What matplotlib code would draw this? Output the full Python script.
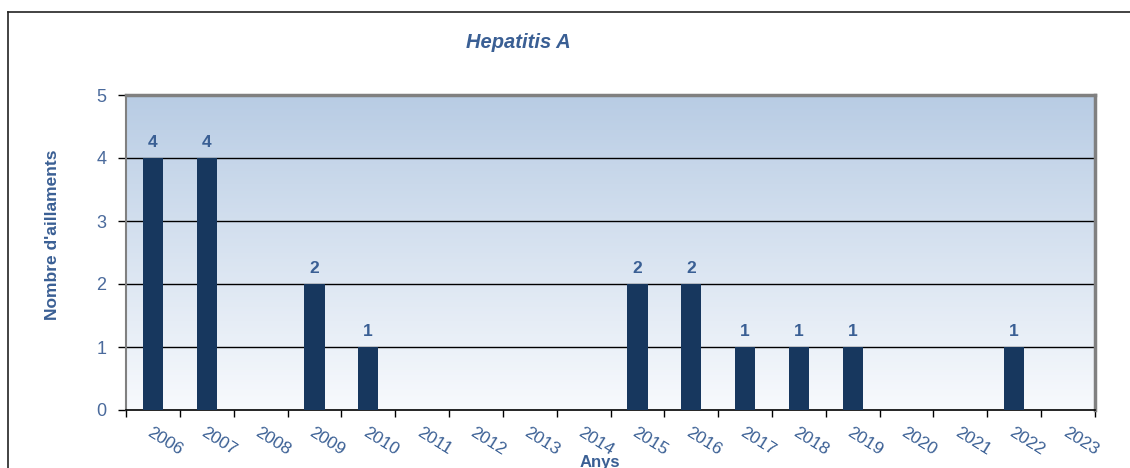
import numpy as np
import matplotlib.pyplot as plt
from matplotlib.colors import LinearSegmentedColormap
from matplotlib.lines import Line2D

plt.rcParams["font.family"] = ["Liberation Sans", "DejaVu Sans"]

years = [str(y) for y in range(2006, 2024)]
cases = [4, 4, 0, 2, 1, 0, 0, 0, 0, 2, 2, 1, 1, 1, 0, 0, 1, 0]

txt_color = "#3a5f94"
bar_color = "#17375e"

fig = plt.figure(figsize=(11.3, 4.68), dpi=100)
ax = fig.add_axes([126 / 1130, 1 - 410 / 468, (1095 - 126) / 1130, (410 - 95) / 468])

# degradat de fons
cmap = LinearSegmentedColormap.from_list("fons", ["#f8fafd", "#b8cce4"])
grad = np.linspace(0, 1, 256).reshape(-1, 1)
ax.imshow(grad, cmap=cmap, aspect="auto", origin="lower",
          extent=[0, len(years), 0, 5], zorder=0)

x = np.arange(len(years)) + 0.5
ax.bar(x, cases, width=0.38, color=bar_color, zorder=3)

for xi, v in zip(x, cases):
    if v > 0:
        ax.text(xi, v + 0.12, str(v), ha="center", va="bottom",
                fontsize=12.5, fontweight="bold", color=txt_color)

ax.set_xlim(0, len(years))
ax.set_ylim(0, 5)
ax.set_yticks(range(0, 6))
for g in range(1, 5):
    ax.axhline(g, color="black", lw=1, zorder=2)

ax.set_xticks(x)
ax.set_xticklabels(years, rotation=-32, ha="left", va="top",
                   rotation_mode="anchor", fontsize=12.5, color=txt_color)
ax.tick_params(axis="x", which="major", length=0, pad=11)
ax.set_xticks(np.arange(0, len(years) + 1), minor=True)
ax.tick_params(axis="x", which="minor", length=5, width=1, color="black", direction="out")
ax.tick_params(axis="y", length=6, width=1, color="black", labelsize=13,
               labelcolor="#4a6a9c", pad=8)

ax.spines["top"].set_color("#808080")
ax.spines["top"].set_linewidth(2.5)
ax.spines["right"].set_color("#808080")
ax.spines["right"].set_linewidth(2.5)
ax.spines["left"].set_color("#808080")
ax.spines["left"].set_linewidth(1.5)
ax.spines["bottom"].set_color("black")
ax.spines["bottom"].set_linewidth(1.2)

fig.text(53 / 1130, 1 - 235 / 468, "Nombre d'aillaments", ha="center", va="center",
         rotation=90, fontsize=12.5, fontweight="bold", color=txt_color)
fig.text(600 / 1130, 1 - 462 / 468, "Anys", ha="center", va="center",
         fontsize=12, fontweight="bold", color=txt_color)
fig.text(518 / 1130, 1 - 42 / 468, "Hepatitis A", ha="center", va="center",
         fontsize=14.5, fontweight="bold", fontstyle="italic", color=txt_color)

# marc exterior
fig.add_artist(Line2D([8 / 1130, 8 / 1130], [0, 1 - 12 / 468],
                      transform=fig.transFigure, color="#222222", lw=1.2))
fig.add_artist(Line2D([8 / 1130, 1], [1 - 12 / 468, 1 - 12 / 468],
                      transform=fig.transFigure, color="#222222", lw=1.2))

fig.savefig("out.png", dpi=100)
